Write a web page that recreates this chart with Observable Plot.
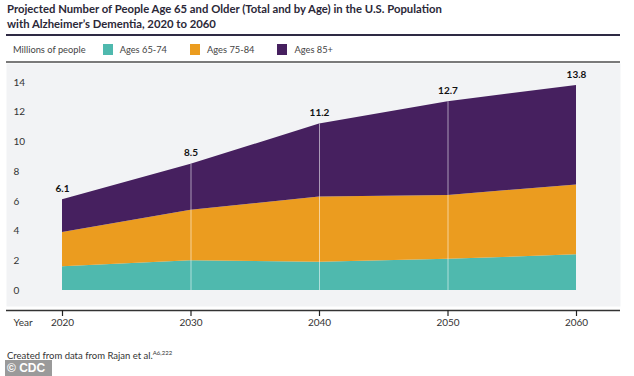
<!DOCTYPE html>
<html>
<head>
<meta charset="utf-8">
<script src="https://cdn.jsdelivr.net/npm/d3@7"></script>
<script src="https://cdn.jsdelivr.net/npm/@observablehq/plot@0.6"></script>
<style>
  html, body { margin: 0; padding: 0; background: #fff; }
  body { width: 634px; height: 376px; position: relative; overflow: hidden; font-family: Lato, "Noto Sans", sans-serif; }
  .title { position: absolute; left: 7px; top: 2px; font-size: 11.3px; line-height: 14.5px; font-weight: 700; color: #2b2838; }
  .rule1 { position: absolute; left: 6px; width: 614px; top: 34px; height: 0; border-top: 2px solid #2e2a44; }
  .rule2 { position: absolute; left: 6px; width: 614px; top: 61px; height: 0; border-top: 2px solid #7a7a7a; }
  .legend { position: absolute; left: 13px; top: 42px; font-size: 9.3px; color: #444; display: flex; align-items: center; height: 14px; }
  .legend .sw { width: 10px; height: 11px; display: inline-block; margin-right: 7px; }
  .legend .it { display: flex; align-items: center; margin-right: 23px; }
  #chart { position: absolute; left: 0; top: 63px; }
  .foot { position: absolute; left: 7px; top: 349px; font-size: 9.5px; color: #333; }
  .foot sup { font-size: 6px; }
  .cdc { position: absolute; left: 5px; top: 360px; width: 47px; height: 16px; background: #9a9a9a; color: #fff; font-weight: 700; font-size: 12px; line-height: 16px; padding-left: 2px; box-sizing: border-box; font-family: "Liberation Sans", Arial, sans-serif; }
</style>
</head>
<body>
<div class="title">Projected Number of People Age 65 and Older (Total and by Age) in the U.S. Population<br>with Alzheimer’s Dementia, 2020 to 2060</div>
<div class="rule1"></div>
<div class="legend" id="legend"></div>
<div class="rule2"></div>
<div id="chart"></div>
<div class="foot">Created from data from Rajan et al.<sup>A6,222</sup></div>
<div class="cdc">© CDC</div>
<script>
const years = [2020, 2030, 2040, 2050, 2060];
const groups = ["Ages 65-74", "Ages 75-84", "Ages 85+"];
const colors = ["#4fb9ae", "#eb9c1f", "#46205f"];
const ages65to74 = [1.6, 2.0, 1.9, 2.1, 2.4];
const ages75to84 = [2.3, 3.4, 4.4, 4.3, 4.7];
const ages85plus = [2.2, 3.1, 4.9, 6.3, 6.7];
const totals = [6.1, 8.5, 11.2, 12.7, 13.8];
const yTicks = [0, 2, 4, 6, 8, 10, 12, 14];
const legendTitle = "Millions of people";
const xLabel = "Year";

const series = [ages65to74, ages75to84, ages85plus];
const data = [];
groups.forEach((g, i) => years.forEach((yr, j) => data.push({year: yr, group: g, value: series[i][j]})));
const totalData = years.map((yr, j) => ({year: yr, total: totals[j]}));

// legend
const leg = document.getElementById("legend");
const lt = document.createElement("span");
lt.textContent = legendTitle;
lt.style.marginRight = "17px";
leg.appendChild(lt);
groups.forEach((g, i) => {
  const it = document.createElement("span");
  it.className = "it";
  const sw = document.createElement("span");
  sw.className = "sw";
  sw.style.background = colors[i];
  it.appendChild(sw);
  it.appendChild(document.createTextNode(g));
  leg.appendChild(it);
});

const chart = Plot.plot({
  width: 634,
  height: 282,
  marginLeft: 62,
  marginRight: 58,
  marginTop: 19,
  marginBottom: 55,
  style: {fontFamily: "Lato, 'Noto Sans', sans-serif", fontSize: "10px", color: "#333", background: "transparent"},
  x: {type: "linear", domain: [2020, 2060], axis: null},
  y: {type: "linear", domain: [0, 14], axis: null},
  color: {domain: groups, range: colors},
  marks: [
    Plot.frame({fill: "#f2f3f5", stroke: "none", insetLeft: -56, insetRight: -44, insetTop: -19, insetBottom: -16}),
    Plot.areaY(data, {x: "year", y: "value", fill: "group", z: "group", curve: "linear"}),
    Plot.ruleX(totalData.filter(d => d.year > 2020 && d.year < 2060), {x: "year", y1: 0, y2: "total", stroke: "#ffffff", strokeOpacity: 0.55, strokeWidth: 1}),
    Plot.text(totalData, {x: "year", y: "total", text: d => d.total.toFixed(1), dy: -11, fontWeight: "bold", fontSize: 10, fill: "#111"}),
    Plot.text(yTicks, {y: d => d, text: d => String(d), frameAnchor: "left", dx: -49, textAnchor: "start", fill: "#333", fontSize: 10}),
    Plot.ruleY([0], {dy: 20, insetLeft: -56, insetRight: -44, stroke: "#333", strokeWidth: 1.5}),
    Plot.ruleX(years, {x: d => d, insetTop: 228, insetBottom: -26, stroke: "#222", strokeWidth: 1.2}),
    Plot.text(years, {x: d => d, frameAnchor: "bottom", text: d => String(d), dy: 35, fill: "#333", fontSize: 10}),
    Plot.text([xLabel], {frameAnchor: "bottom-left", dx: -49, dy: 35, textAnchor: "start", fill: "#333", fontSize: 10})
  ]
});
document.getElementById("chart").appendChild(chart);
</script>
</body>
</html>
